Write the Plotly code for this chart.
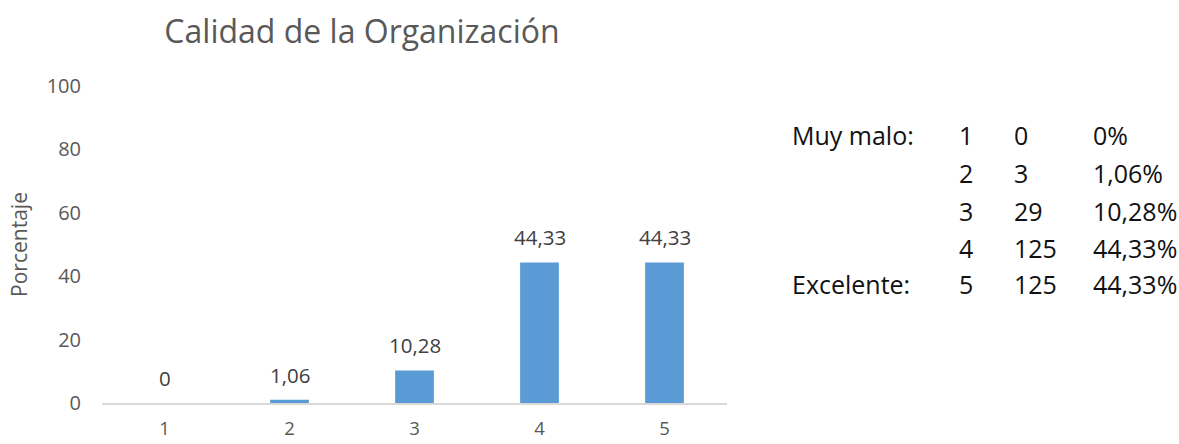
import plotly.graph_objects as go

categories = ["1", "2", "3", "4", "5"]
percentages = [0, 1.06, 10.28, 44.33, 44.33]
bar_labels = ["0", "1,06", "10,28", "44,33", "44,33"]
table_names = ["Muy malo:", "", "", "", "Excelente:"]
table_levels = ["1", "2", "3", "4", "5"]
table_counts = ["0", "3", "29", "125", "125"]
table_pcts = ["0%", "1,06%", "10,28%", "44,33%", "44,33%"]
y_ticks = [0, 20, 40, 60, 80, 100]

W, H = 1179, 444
L, R, T, B = 102, 452, 86, 41
fig = go.Figure()
fig.add_trace(go.Bar(
    x=categories, y=percentages, width=0.31,
    marker=dict(color="#5B9BD5", line=dict(width=0)),
    hoverinfo="skip",
))

# value labels above bars, positioned from the data (category index on the category axis)
for i, (v, lab) in enumerate(zip(percentages, bar_labels)):
    fig.add_annotation(x=i, y=v, xref="x", yref="y", text=lab, showarrow=False,
                       yanchor="bottom", yshift=9,
                       font=dict(family="Open Sans", size=20.5, color="#404040"))

fig.update_layout(
    width=W, height=H,
    margin=dict(l=L, r=R, t=T, b=B, autoexpand=False),
    paper_bgcolor="white", plot_bgcolor="white",
    showlegend=False,
    title=dict(text="Calidad de la Organización", x=362 / W, xanchor="center",
               y=1 - 32 / H, yanchor="middle",
               font=dict(family="Open Sans", size=32, color="#595959")),
    xaxis=dict(type="category", categoryorder="array", categoryarray=categories,
               range=[-0.5, len(categories) - 0.5],
               showgrid=False, showline=True, linecolor="#D9D9D9",
               linewidth=1.5, ticks="", automargin=False, ticklabelstandoff=8,
               tickfont=dict(family="Open Sans", size=18.5, color="#595959")),
    yaxis=dict(range=[0, 100], tickvals=y_ticks, showgrid=False, zeroline=False,
               showline=False, ticks="", ticklabelstandoff=20, automargin=False,
               tickfont=dict(family="Open Sans", size=20, color="#595959"),
               title=dict(text="Porcentaje", standoff=13,
                          font=dict(family="Open Sans", size=21, color="#595959"))),
)

row_y = [135, 173, 211, 248, 284]
font = dict(family="Open Sans", size=25, color="#111111")
for i in range(len(table_levels)):
    py = row_y[i]
    for txt, px in [(table_names[i], 790), (table_levels[i], 957), (table_counts[i], 1012), (table_pcts[i], 1091)]:
        if txt:
            fig.add_annotation(text=txt,
                               x=(px - L) / (W - L - R), y=(H - B - py) / (H - T - B),
                               xref="paper", yref="paper",
                               xanchor="left", yanchor="middle", showarrow=False, font=font)

fig.write_html("out.html", config={"displayModeBar": False},
               post_script="document.body.style.margin='0';")
